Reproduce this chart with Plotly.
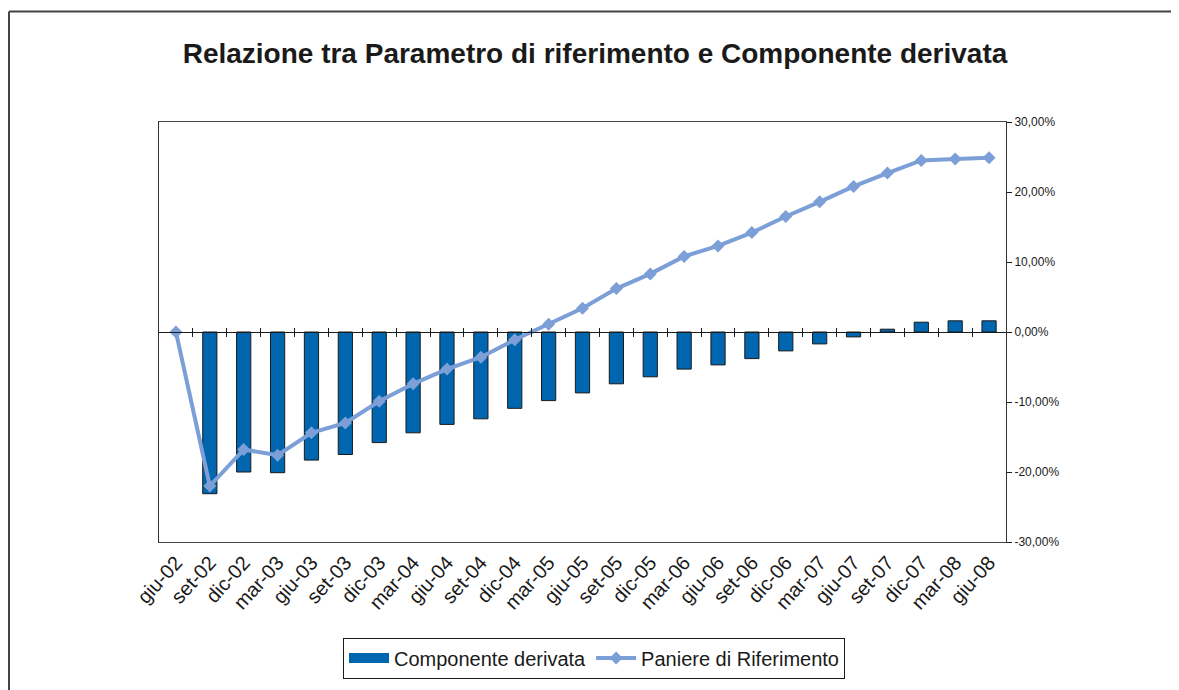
import plotly.graph_objects as go

categories = ["giu-02", "set-02", "dic-02", "mar-03", "giu-03", "set-03", "dic-03",
              "mar-04", "giu-04", "set-04", "dic-04", "mar-05", "giu-05", "set-05",
              "dic-05", "mar-06", "giu-06", "set-06", "dic-06", "mar-07", "giu-07",
              "set-07", "dic-07", "mar-08", "giu-08"]

componente_derivata = [None, -23.1, -20.0, -20.1, -18.3, -17.5, -15.8, -14.4, -13.2,
                       -12.4, -10.9, -9.8, -8.7, -7.4, -6.4, -5.3, -4.7, -3.8, -2.7,
                       -1.7, -0.7, 0.4, 1.4, 1.6, 1.6]

paniere_riferimento = [0.0, -22.0, -16.8, -17.6, -14.4, -13.0, -9.9, -7.4, -5.3, -3.6,
                       -1.1, 1.1, 3.4, 6.2, 8.3, 10.8, 12.3, 14.2, 16.5, 18.6, 20.8,
                       22.7, 24.5, 24.7, 24.9]

y_ticks = [-30, -20, -10, 0, 10, 20, 30]
y_ticktext = ["-30,00%", "-20,00%", "-10,00%", "0,00%", "10,00%", "20,00%", "30,00%"]

FONT = "Arial, 'Liberation Sans', sans-serif"
BAR_COLOR = "#0066B0"
LINE_COLOR = "#7B9FD6"

# page is rendered with an 8px body margin; figure coordinates below are page - 8
W, H = 1171, 682
PL, PR, PT, PB = 151, 998, 114, 536   # plot area in figure px
PW, PHt = PR - PL, PB - PT

fig = go.Figure()
fig.add_trace(go.Bar(
    x=categories, y=componente_derivata, name="Componente derivata",
    marker=dict(color=BAR_COLOR, line=dict(color="#1a1a1a", width=1)),
    showlegend=False,
))
# legend proxy for the bar series (wide rectangle swatch, like the original)
fig.add_trace(go.Scatter(
    x=[None], y=[None], name="Componente derivata", mode="lines",
    line=dict(color=BAR_COLOR, width=14), showlegend=True, hoverinfo="skip",
))
fig.add_trace(go.Scatter(
    x=categories, y=paniere_riferimento, name="Paniere di Riferimento",
    mode="lines+markers",
    line=dict(color=LINE_COLOR, width=4),
    marker=dict(symbol="diamond", size=10, color=LINE_COLOR),
))

n = len(categories)
boundaries = [i + 0.5 for i in range(n - 1)]

fig.update_layout(
    width=W, height=H,
    margin=dict(l=PL, r=W - PR, t=PT, b=H - PB, pad=0),
    paper_bgcolor="white", plot_bgcolor="white",
    bargap=0.58,
    showlegend=True,
    title=dict(text="<b>Relazione tra Parametro di riferimento e Componente derivata</b>",
               x=587 / W, xanchor="center", y=1 - 45 / H, yanchor="middle",
               yref="container", xref="container",
               font=dict(family=FONT, size=28, color="#1a1a1a")),
    legend=dict(orientation="h", x=(586 - PL) / PW, xanchor="center",
                y=(PB - 632) / PHt, yanchor="top",
                bordercolor="#1a1a1a", borderwidth=1, bgcolor="white",
                font=dict(family=FONT, size=20, color="#1a1a1a"),
                itemwidth=40, tracegroupgap=0),
    xaxis=dict(type="category", categoryorder="array", categoryarray=categories,
               range=[-0.5, n - 0.5], tickangle=-48, showgrid=False,
               ticks="", showline=True, linecolor="#444", linewidth=1, mirror=True,
               tickfont=dict(family=FONT, size=20, color="#1a1a1a"), zeroline=False),
    xaxis2=dict(overlaying="x", anchor="free", position=0.5, range=[-0.5, n - 0.5],
                tickvals=boundaries, ticks="outside", ticklen=4, tickcolor="#1a1a1a",
                showticklabels=False, showgrid=False, showline=True, linecolor="#1a1a1a",
                linewidth=1, zeroline=False),
    xaxis3=dict(overlaying="x", anchor="free", position=0.5, range=[-0.5, n - 0.5],
                tickvals=boundaries, ticks="inside", ticklen=4, tickcolor="#1a1a1a",
                showticklabels=False, showgrid=False, showline=False, zeroline=False,
                side="bottom"),
    yaxis=dict(side="right", range=[-30, 30], tickvals=y_ticks, ticktext=y_ticktext,
               ticks="outside", ticklen=5, tickcolor="#1a1a1a", showgrid=False,
               showline=True, linecolor="#333", linewidth=1, mirror=True, zeroline=False,
               tickfont=dict(family=FONT, size=12, color="#1a1a1a")),
    shapes=[
        dict(type="line", xref="paper", yref="paper",
             x0=(1 - PL) / PW, x1=(W + 20 - PL) / PW,
             y0=(PB - 3) / PHt, y1=(PB - 3) / PHt,
             line=dict(color="#444", width=2)),
        dict(type="line", xref="paper", yref="paper",
             x0=(1 - PL) / PW, x1=(1 - PL) / PW,
             y0=(PB - 3) / PHt, y1=(PB - H - 20) / PHt,
             line=dict(color="#444", width=2)),
    ],
)

# invisible anchors for the overlay axes that draw the crossing ticks on the zero line
fig.add_trace(go.Scatter(x=[0], y=[0], xaxis="x2", mode="markers",
                         marker=dict(opacity=0), showlegend=False, hoverinfo="skip"))
fig.add_trace(go.Scatter(x=[0], y=[0], xaxis="x3", mode="markers",
                         marker=dict(opacity=0), showlegend=False, hoverinfo="skip"))

fig.write_html("out.html")
